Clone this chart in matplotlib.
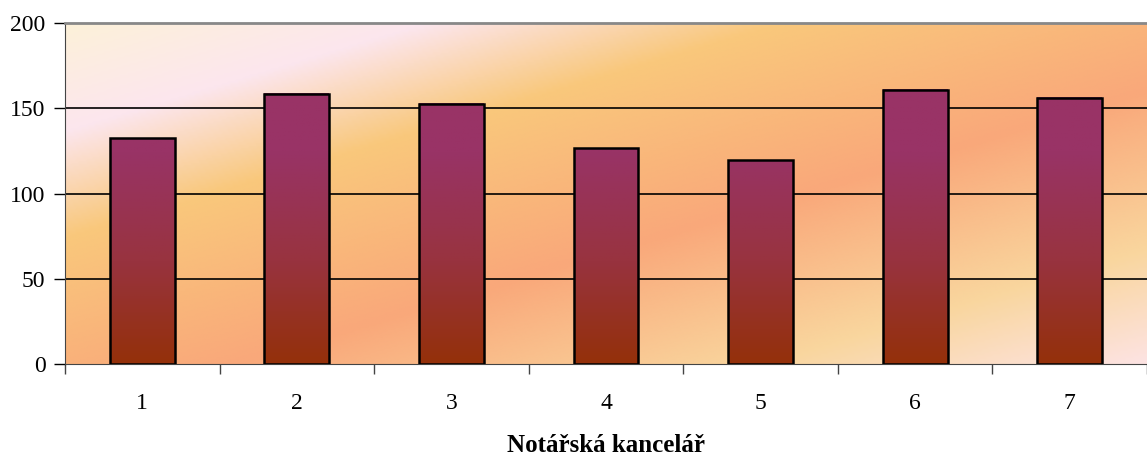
import numpy as np
import matplotlib
matplotlib.use("Agg")
import matplotlib.pyplot as plt
from matplotlib.colors import LinearSegmentedColormap, Normalize

# data
offices = ["1", "2", "3", "4", "5", "6", "7"]
counts = [132.4, 158.4, 152.7, 126.5, 119.5, 160.8, 156.2]
yticks = [0, 50, 100, 150, 200]

plt.rcParams['font.family'] = ['Liberation Serif', 'DejaVu Serif']

fig = plt.figure(figsize=(11.47, 4.57), dpi=100)
ax = fig.add_axes([65 / 1147, 93 / 457, 1082 / 1147, 341 / 457])

# diagonal background fill (pixel based: t = y + 0.3x, y measured from top)
W, H = 1082, 341
xx, yy = np.meshgrid(np.linspace(0, W, 400), np.linspace(0, H, 160))
t = (yy + 0.3 * xx) / (H + 0.3 * W)
bg_cmap = LinearSegmentedColormap.from_list("bg", [
    (0.00, "#fdf1d9"),
    (0.16, "#fce6ee"),
    (0.32, "#f9c87c"),
    (0.59, "#f9a87a"),
    (0.83, "#f9d69e"),
    (1.00, "#fde3e2"),
])
ax.imshow(t, cmap=bg_cmap, vmin=0, vmax=1, extent=[0, 1, 0, 1], origin='upper',
          transform=ax.transAxes, aspect='auto', zorder=0, interpolation='bilinear')

# grid lines
for v in yticks[1:-1]:
    ax.axhline(v, color='black', lw=1.2, zorder=1)

# bars with vertical gradient
bar_cmap = LinearSegmentedColormap.from_list("bar", [
    (0.00, "#94300a"),
    (0.30, "#98333f"),
    (0.62, "#993366"),
    (1.00, "#993366"),
])
width = 0.42
pos = np.arange(1, len(offices) + 1)
for x, h in zip(pos, counts):
    grad = np.linspace(0, h, 200).reshape(-1, 1)
    ax.imshow(grad, cmap=bar_cmap, norm=Normalize(0, 200), origin='lower',
              extent=[x - width / 2, x + width / 2, 0, h], aspect='auto', zorder=2)
ax.bar(pos, counts, width=width, facecolor='none', edgecolor='black', linewidth=1.8, zorder=3)

ax.set_xlim(0.5, 7.5)
ax.set_ylim(0, 200)

# spines
ax.spines['right'].set_visible(False)
ax.spines['top'].set_color('#888888')
ax.spines['top'].set_linewidth(2)
ax.spines['left'].set_color('#444444')
ax.spines['bottom'].set_color('#444444')

ax.set_yticks(yticks)
ax.tick_params(axis='y', length=8, width=1, pad=6, labelsize=17, direction='out')
ax.set_xticks(np.arange(0.5, 8.0, 1.0))
ax.set_xticklabels([])
ax.tick_params(axis='x', which='major', length=7, width=1, color='#444444', direction='out')
ax.set_xticks(pos, minor=True)
ax.set_xticklabels(offices, minor=True)
ax.tick_params(axis='x', which='minor', length=0, pad=21, labelsize=17)

ax.set_xlabel("Notářská kancelář", fontsize=18, fontweight='bold', labelpad=14)

fig.savefig("out.png", dpi=100)
